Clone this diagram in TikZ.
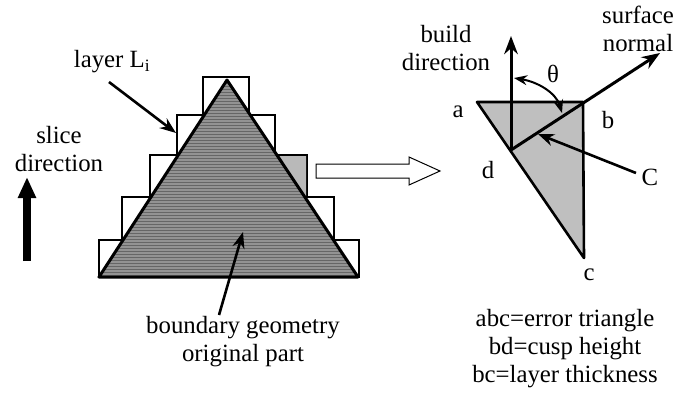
\documentclass[tikz,border=0pt]{standalone}
\usepackage{fontspec}
\setmainfont{Liberation Serif}
\usetikzlibrary{arrows.meta, patterns}

\begin{document}
\begin{tikzpicture}[x=1pt, y=-1pt, line width=2.6pt,
    label text/.style={inner sep=0pt, align=center, font=\fontsize{24.8}{28}\selectfont},
    pointer/.style={-{Stealth[scale=1.1]}, line width=2.6pt}]
        \useasboundingbox (0,0) rectangle (674,396);

        % stair layers
        \coordinate (Top) at (227,80);
        \coordinate (BaseL) at (99,277);
        \coordinate (BaseR) at (358,277);
        \draw[fill=white] (99,277) -- (99,240) -- (122,240) -- (122,197) -- (150,197) -- (150,155) -- (177,155)
            -- (177,115) -- (203,115) -- (203,77) -- (249,77) -- (249,115) -- (275,115) -- (275,155) -- (307,155)
            -- (307,197) -- (334,197) -- (334,240) -- (359,240) -- (359,277) -- cycle;

        % error region on the third layer
        \fill[gray!55] (277,156) -- (306,156) -- (306,196) -- (304,196) -- cycle;

        % part
        \fill[gray!85] (Top) -- (BaseR) -- (BaseL) -- cycle;
        \fill[pattern=horizontal lines, pattern color=black!60] (Top) -- (BaseR) -- (BaseL) -- cycle;
        \draw[line width=3pt, line join=round] (Top) -- (BaseR) -- (BaseL) -- cycle;

        % labels on the left
        \node[label text] (LayerLabel) at (112,62) {layer L\textsubscript{i}};
        \coordinate (LayerTail) at (109,82);
        \coordinate (LayerTip) at (176,133);
        \draw[pointer] (LayerTail) -- (LayerTip);

        \node[label text] (SliceLabel) at (59,149) {slice\\direction};
        \coordinate (SliceTail) at (27,261);
        \coordinate (SliceTip) at (27,177);
        \draw[-{Triangle[length=21pt, width=17pt]}, line width=8pt] (SliceTail) -- (SliceTip);

        \node[label text] (PartLabel) at (243,342) {boundary geometry\\original part};
        \coordinate (PartTail) at (219,315);
        \coordinate (PartTip) at (243,232);
        \draw[pointer] (PartTail) -- (PartTip);

        % hollow arrow
        \draw[line width=1pt, fill=white] (316,164) -- (409,164) -- (409,157) -- (440,171) -- (409,185) -- (409,178) -- (316,178) -- cycle;

        % error triangle
        \coordinate (a) at (477,102);
        \coordinate (b) at (583,102);
        \coordinate (c) at (584,258);
        \coordinate (d) at (511,150);
        \fill[gray!50] (a) -- (b) -- (c) -- cycle;
        \draw[line join=round] (a) -- (b) -- (c) -- cycle;
        \node[label text] (aLabel) at (458,112) {a};
        \node[label text] (bLabel) at (608,120) {b};
        \node[label text] (cLabel) at (589,275) {c};
        \node[label text] (dLabel) at (488,170) {d};

        % build direction and surface normal
        \coordinate (BuildTip) at (511,36);
        \coordinate (NormalTip) at (660,53);
        \draw[-{Stealth[scale=1.1]}, line width=3pt] (d) -- (BuildTip);
        \draw[-{Stealth[scale=1.1]}, line width=3pt] (d) -- (NormalTip);
        \node[label text] (BuildLabel) at (446,48) {build\\direction};
        \node[label text] (NormalLabel) at (638,29) {surface\\normal};

        % angle between them
        \coordinate (AngleA) at (514,78);
        \coordinate (AngleB) at (562,113);
        \draw[{Stealth[scale=1.1]}-{Stealth[scale=1.1]}, line width=2pt] (AngleA) .. controls (538,82) and (556,93) .. (AngleB);
        \node[label text] (ThetaLabel) at (553,74) {θ};

        % cusp pointer
        \node[label text] (CLabel) at (650,177) {C};
        \coordinate (CTail) at (636,173);
        \coordinate (CTip) at (538,134);
        \draw[pointer] (CTail) -- (CTip);

        % legend
        \node[label text] (Legend) at (565,349) {abc=error triangle\\bd=cusp height\\bc=layer thickness};
    \end{tikzpicture}
\end{document}
